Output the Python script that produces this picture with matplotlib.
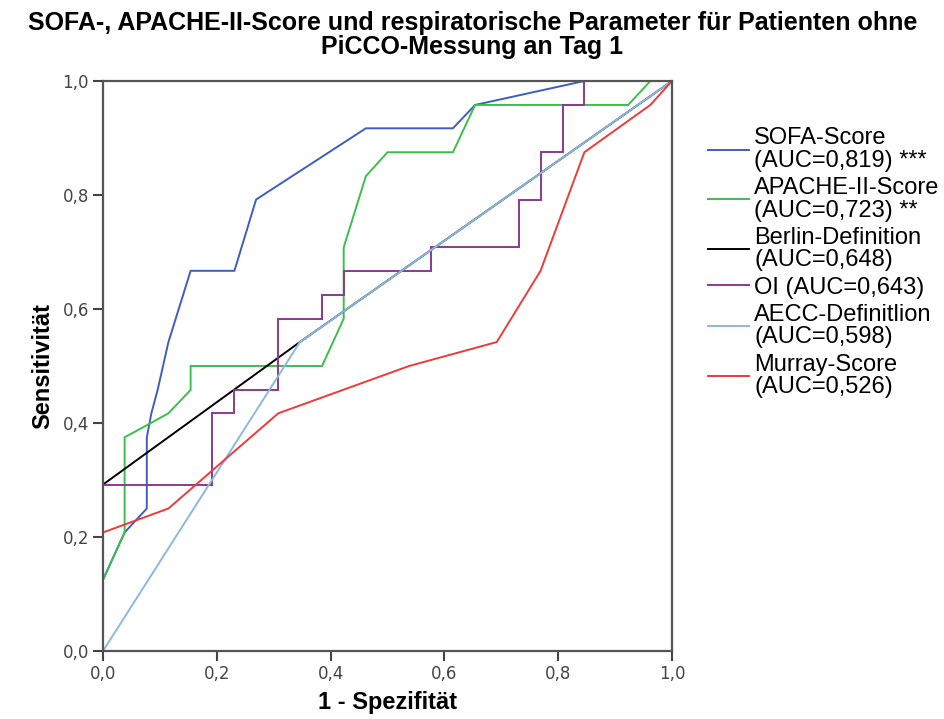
import matplotlib
matplotlib.use("Agg")
import matplotlib.pyplot as plt
from matplotlib.ticker import FuncFormatter

# ROC data (1 - Spezifität, Sensitivität)
sofa_x = [0, 0, 0.038, 0.077, 0.077, 0.085, 0.096, 0.115, 0.154, 0.231, 0.269, 0.462, 0.615, 0.654, 0.846, 1.0]
sofa_y = [0, 0.125, 0.208, 0.25, 0.375, 0.417, 0.458, 0.542, 0.667, 0.667, 0.792, 0.917, 0.917, 0.958, 1.0, 1.0]

apache_x = [0, 0, 0.038, 0.038, 0.077, 0.115, 0.154, 0.154, 0.385, 0.423, 0.423, 0.462, 0.5, 0.615, 0.654, 0.923, 0.962, 1.0]
apache_y = [0, 0.125, 0.208, 0.375, 0.396, 0.417, 0.458, 0.5, 0.5, 0.583, 0.708, 0.833, 0.875, 0.875, 0.958, 0.958, 1.0, 1.0]

berlin_x = [0, 0, 0.346, 1.0]
berlin_y = [0, 0.292, 0.542, 1.0]

oi_x = [0, 0, 0.192, 0.192, 0.231, 0.231, 0.308, 0.308, 0.385, 0.385, 0.423, 0.423, 0.577, 0.577,
        0.731, 0.731, 0.769, 0.769, 0.808, 0.808, 0.846, 0.846, 1.0]
oi_y = [0, 0.292, 0.292, 0.417, 0.417, 0.458, 0.458, 0.583, 0.583, 0.625, 0.625, 0.667, 0.667, 0.708,
        0.708, 0.792, 0.792, 0.875, 0.875, 0.958, 0.958, 1.0, 1.0]

aecc_x = [0, 0.346, 1.0]
aecc_y = [0, 0.542, 1.0]

murray_x = [0, 0, 0.115, 0.308, 0.538, 0.692, 0.769, 0.846, 0.962, 1.0]
murray_y = [0, 0.208, 0.25, 0.417, 0.5, 0.542, 0.667, 0.875, 0.958, 1.0]

labels = ["SOFA-Score\n(AUC=0,819) ***",
          "APACHE-II-Score\n(AUC=0,723) **",
          "Berlin-Definition\n(AUC=0,648)",
          "OI (AUC=0,643)",
          "AECC-Definitlion\n(AUC=0,598)",
          "Murray-Score\n(AUC=0,526)"]
colors = ["#3F5DBE", "#3DBE4C", "#000000", "#8B3A92", "#8AB8E2", "#EE3A3A"]

series = [(sofa_x, sofa_y), (apache_x, apache_y), (berlin_x, berlin_y),
          (oi_x, oi_y), (aecc_x, aecc_y), (murray_x, murray_y)]

ticks = [0.0, 0.2, 0.4, 0.6, 0.8, 1.0]

plt.rcParams['font.family'] = ['Liberation Sans', 'DejaVu Sans']

fig = plt.figure(figsize=(9.45, 7.19), dpi=100)
ax = fig.add_axes([103/945, 68/719, 569/945, 570/719])

for (xs, ys), c, lab in zip(series, colors, labels):
    ax.plot(xs, ys, color=c, lw=1.4, label=lab, solid_joinstyle='miter')

ax.set_xlim(0, 1)
ax.set_ylim(0, 1)
ax.set_xticks(ticks)
ax.set_yticks(ticks)
fmt = FuncFormatter(lambda v, p: f"{v:.1f}".replace(".", ","))
ax.xaxis.set_major_formatter(fmt)
ax.yaxis.set_major_formatter(fmt)
ax.tick_params(direction='out', length=7, width=1.5, color='#444444',
               labelsize=12, labelcolor='#444444', pad=3)
for lab in ax.get_xticklabels() + ax.get_yticklabels():
    lab.set_family('DejaVu Sans')
for s in ax.spines.values():
    s.set_color('#555555')
    s.set_linewidth(1.6)

ax.set_xlabel("1 - Spezifität", fontsize=17, fontweight='bold', labelpad=6)
ax.set_ylabel("Sensitivität", fontsize=17, fontweight='bold', labelpad=6)

fig.text(0.5, 1 - 11/719, "SOFA-, APACHE-II-Score und respiratorische Parameter für Patienten ohne\nPiCCO-Messung an Tag 1",
         ha='center', va='top', fontsize=18, fontweight='bold', linespacing=1.0)

leg = ax.legend(loc='upper left', bbox_to_anchor=(708/945, 1 - 127/719),
                bbox_transform=fig.transFigure, frameon=False, fontsize=17,
                handlelength=1.75, handletextpad=0.2, labelspacing=0.22, borderpad=0,
                borderaxespad=0)
for t in leg.get_texts():
    t.set_linespacing(1.04)

fig.savefig("out.png", dpi=100)
